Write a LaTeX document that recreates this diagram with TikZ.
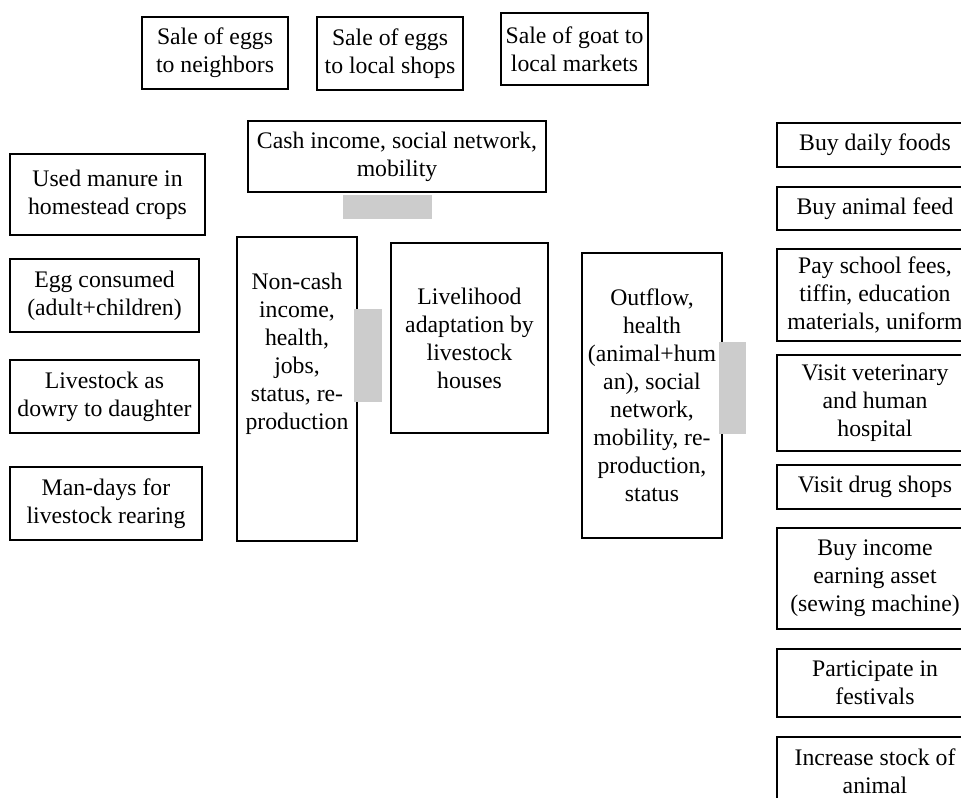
\documentclass[tikz,border=0pt]{standalone}
\usepackage{fontspec}
\setmainfont{Liberation Serif}
\definecolor{barg}{RGB}{204,204,204}
\begin{document}
\begin{tikzpicture}[x=0.75pt,y=-0.75pt,
  box/.style={draw=black,line width=2.1pt,rectangle,align=center,inner sep=2pt,
    font=\fontsize{17.8}{21}\selectfont},
  frame/.style={draw=black,line width=2.1pt,rectangle,inner sep=0pt},
  txt/.style={align=center,inner sep=0pt,font=\fontsize{17.8}{21}\selectfont},
  bar/.style={fill=barg,draw=none,rectangle,inner sep=0pt}]
\useasboundingbox (0,0) rectangle (961,798);
\clip (0,0) rectangle (961,798);

% top row
\node[box,minimum width=109.5pt,minimum height=54pt] (s1) at (215,53) {Sale of eggs\\to neighbors};
\node[box,minimum width=109.5pt,minimum height=54.75pt] (s2) at (390,53.5) {Sale of eggs\\to local shops};
\node[box,minimum width=110.25pt,minimum height=54pt] (s3) at (574.5,49) {Sale of goat to\\local markets};

% centre
\node[box,minimum width=223.5pt,minimum height=53.25pt] (cash) at (397,156.5) {Cash income, social network,\\mobility};
\node[frame,minimum width=90pt,minimum height=228pt] (nc) at (297,389) {};
\node[txt] (nctext) at (297,354) {Non-cash\\income,\\health,\\jobs,\\status, re-\\production};
\node[box,minimum width=117.75pt,minimum height=142.5pt] (live) at (469.5,338) {Livelihood\\adaptation by\\livestock\\houses};
\node[box,minimum width=105pt,minimum height=213.75pt] (out) at (652,395.5) {Outflow,\\health\\(animal+hum\\an), social\\network,\\mobility, re-\\production,\\status};

% grey bars
\node[bar,minimum width=66.75pt,minimum height=18pt] (g1) at (387.5,207) {};
\node[bar,minimum width=21pt,minimum height=69.75pt] (g2) at (368,355.5) {};
\node[bar,minimum width=20.25pt,minimum height=69pt] (g3) at (732.5,388) {};

% left column
\node[box,minimum width=146.25pt,minimum height=60.75pt] (l1) at (107.5,194.5) {Used manure in\\homestead crops};
\node[box,minimum width=141.75pt,minimum height=54.75pt] (l2) at (104.5,295.5) {Egg consumed\\(adult+children)};
\node[box,minimum width=141.75pt,minimum height=54.75pt] (l3) at (104.5,396.5) {Livestock as\\dowry to daughter};
\node[box,minimum width=144pt,minimum height=54.75pt] (l4) at (106,503.5) {Man-days for\\livestock rearing};

% right column
\node[box,minimum width=147pt,minimum height=33pt] (r1) at (875,145) {Buy daily foods};
\node[box,minimum width=147pt,minimum height=32.25pt] (r2) at (875,208.5) {Buy animal feed};
\node[box,minimum width=147pt,minimum height=69pt] (r3) at (875,295) {Pay school fees,\\tiffin, education\\materials, uniform};
\node[box,minimum width=147pt,minimum height=72pt] (r4) at (875,403) {Visit veterinary\\and human\\hospital};
\node[box,minimum width=147pt,minimum height=33pt] (r5) at (875,487) {Visit drug shops};
\node[box,minimum width=147pt,minimum height=75.75pt] (r6) at (875,578.5) {Buy income\\earning asset\\(sewing machine)};
\node[box,minimum width=147pt,minimum height=51pt] (r7) at (875,683) {Participate in\\festivals};
\node[box,minimum width=147pt,minimum height=51pt] (r8) at (875,771) {Increase stock of\\animal};
\end{tikzpicture}
\end{document}
